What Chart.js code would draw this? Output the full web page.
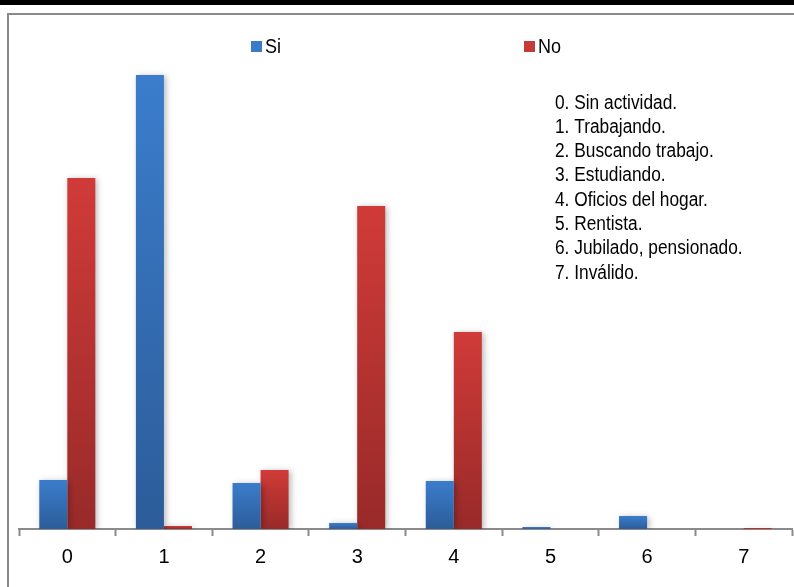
<!DOCTYPE html>
<html>
<head>
<meta charset="utf-8">
<script src="https://cdn.jsdelivr.net/npm/chart.js@4.4.0/dist/chart.umd.min.js"></script>
<style>
  html, body { margin: 0; padding: 0; background: #fff; overflow: hidden; }
  #banda { position: absolute; left: 0; top: 0; width: 794px; height: 5px; background: #000; }
  #marco { position: absolute; left: 7px; top: 13px; width: 800px; height: 600px; border: 2px solid #8a8a8a; box-sizing: border-box; }
  #grafico { position: absolute; left: 0; top: 0; }
</style>
</head>
<body>
<div id="banda"></div>
<div id="marco"></div>
<canvas id="grafico" width="794" height="587"></canvas>
<script>
const categorias = ['0', '1', '2', '3', '4', '5', '6', '7'];
const valoresSi = [49, 454, 46, 6, 48, 2, 13, 0];
const valoresNo = [351, 3, 59, 323, 197, 0, 0, 1];
const descripciones = [
    '0. Sin actividad.',
    '1. Trabajando.',
    '2. Buscando trabajo.',
    '3. Estudiando.',
    '4. Oficios del hogar.',
    '5. Rentista.',
    '6. Jubilado, pensionado.',
    '7. Inválido.'
];

const fuente = "'Liberation Sans Narrow', 'Arial Narrow', 'Liberation Sans', sans-serif";

function degradado(claro, oscuro) {
    return function(context) {
        const chart = context.chart;
        const area = chart.chartArea;
        if (!area || context.parsed === undefined) return claro;
        const y = chart.scales.y;
        const arriba = y.getPixelForValue(context.parsed.y);
        const abajo = y.getPixelForValue(0);
        if (abajo - arriba < 1) return claro;
        const g = chart.ctx.createLinearGradient(0, arriba, 0, abajo);
        g.addColorStop(0, claro);
        g.addColorStop(1, oscuro);
        return g;
    };
}

const sombra = {
    id: 'sombra',
    beforeDatasetsDraw(chart) {
        const ctx = chart.ctx;
        ctx.save();
        ctx.shadowColor = 'rgba(0,0,0,0.28)';
        ctx.shadowBlur = 6;
        ctx.shadowOffsetX = 2;
        ctx.shadowOffsetY = 1;
    },
    afterDatasetsDraw(chart) {
        chart.ctx.restore();
    }
};

const textos = {
    id: 'textos',
    afterDraw(chart) {
        const ctx = chart.ctx;
        ctx.save();
        ctx.font = '20px ' + fuente;
        ctx.textBaseline = 'middle';
        ctx.fillStyle = '#000';
        // leyenda
        const items = [
            { t: 'Si', x: 251, c: '#3a7bc8' },
            { t: 'No', x: 524, c: '#c63a37' }
        ];
        items.forEach(function(it) {
            ctx.fillStyle = it.c;
            ctx.fillRect(it.x, 41, 11, 11);
            ctx.fillStyle = '#000';
            ctx.save();
            ctx.translate(it.x + 14, 47);
            ctx.scale(0.9, 1);
            ctx.fillText(it.t, 0, 0);
            ctx.restore();
        });
        // lista de actividades (letra estrecha)
        ctx.translate(555, 0);
        ctx.scale(0.865, 1);
        descripciones.forEach(function(d, i) {
            ctx.fillText(d, 0, 103 + i * 24.3);
        });
        ctx.restore();
    }
};

new Chart(document.getElementById('grafico'), {
    type: 'bar',
    data: {
        labels: categorias,
        datasets: [{
            label: 'Si',
            data: valoresSi,
            backgroundColor: degradado('#3b7dcc', '#2c5c99'),
            borderWidth: 0,
            categoryPercentage: 0.58,
            barPercentage: 1
        }, {
            label: 'No',
            data: valoresNo,
            backgroundColor: degradado('#d03b38', '#982a29'),
            borderWidth: 0,
            categoryPercentage: 0.58,
            barPercentage: 1
        }]
    },
    options: {
        responsive: false,
        animation: false,
        layout: { padding: { left: 19, right: 2, top: 29, bottom: 0 } },
        scales: {
            x: {
                grid: {
                    offset: true,
                    drawOnChartArea: false,
                    drawTicks: true,
                    tickLength: 7,
                    tickWidth: 2,
                    color: '#8a8a8a'
                },
                border: { display: true, color: '#8a8a8a', width: 2 },
                ticks: {
                    color: '#000',
                    padding: 9,
                    font: { family: fuente, size: 20 }
                },
                afterFit: function(scale) { scale.height = 58; }
            },
            y: {
                display: false,
                min: 0,
                max: 500
            }
        },
        plugins: {
            legend: { display: false },
            tooltip: { enabled: false }
        }
    },
    plugins: [sombra, textos]
});
</script>
</body>
</html>
